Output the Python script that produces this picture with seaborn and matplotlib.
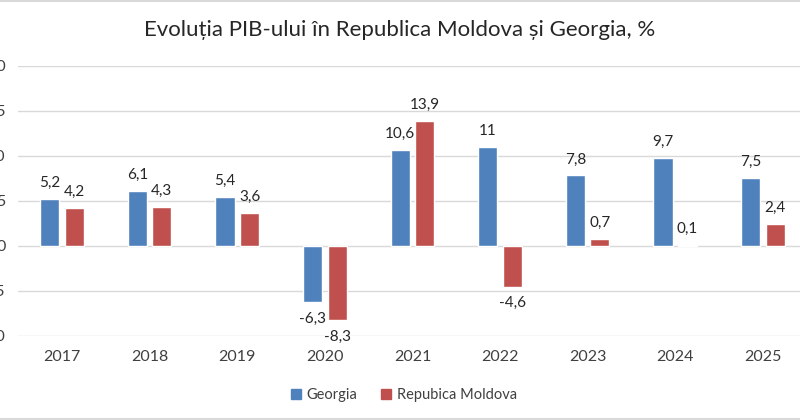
import pandas as pd
import matplotlib.pyplot as plt
import seaborn as sns

# Data
years = ['2017', '2018', '2019', '2020', '2021', '2022', '2023', '2024', '2025']
georgia = [5.2, 6.1, 5.4, -6.3, 10.6, 11, 7.8, 9.7, 7.5]
moldova = [4.2, 4.3, 3.6, -8.3, 13.9, -4.6, 0.7, 0.1, 2.4]
series_names = ['Georgia', 'Repubica Moldova']
colors = ['#4F81BD', '#C0504D']

df = pd.DataFrame({
    'year': years * 2,
    'value': georgia + moldova,
    'series': [series_names[0]] * len(years) + [series_names[1]] * len(years),
})

sns.set_style('white')
plt.rcParams['font.family'] = ['Lato', 'DejaVu Sans']

fig = plt.figure(figsize=(8, 4.2), dpi=100)
# the original chart is cropped at left and right, so the axes run past the edges
ax = fig.add_axes([0.0228, 0.2007, 0.9855, 0.643])

sns.barplot(data=df, x='year', y='value', hue='series', palette=colors,
            width=0.56, gap=0.22, saturation=1, ax=ax, legend=False)

# data labels with comma decimal
for cont in ax.containers:
    labels = [f'{v:g}'.replace('.', ',') for v in cont.datavalues]
    ax.bar_label(cont, labels=labels, padding=6.5, fontsize=11, color='#262626')

ax.set_ylim(-10, 20)
ax.set_xlim(-0.5, len(years) - 0.5)
ax.set_yticks(range(-10, 21, 5))
ax.yaxis.grid(True, color='#D9D9D9', linewidth=1)
ax.set_axisbelow(True)
for s in ax.spines.values():
    s.set_visible(False)
ax.tick_params(axis='x', length=0, pad=10, labelsize=11.5, labelcolor='#404040')
ax.tick_params(axis='y', length=0, pad=9, labelsize=11.5, labelcolor='#404040')
ax.set_xlabel('')
ax.set_ylabel('')

fig.suptitle('Evoluția PIB-ului în Republica Moldova și Georgia, %',
             x=0.4995, y=0.929, va='center', fontsize=16, color='#262626')

handles = [plt.Rectangle((0, 0), 1, 1, color=c) for c in colors]
fig.legend(handles, series_names, loc='center', bbox_to_anchor=(0.505, 0.06),
           ncol=2, frameon=False, fontsize=10.5, handlelength=0.7, handleheight=0.7,
           handletextpad=0.4, columnspacing=1.6, labelcolor='#404040')

# light chart border lines top and bottom
fig.add_artist(plt.Line2D([0, 1], [0.998, 0.998], color='#D9D9D9', linewidth=1.5))
fig.add_artist(plt.Line2D([0, 1], [0.003, 0.003], color='#D9D9D9', linewidth=1.5))

fig.savefig('out.png', dpi=100)
